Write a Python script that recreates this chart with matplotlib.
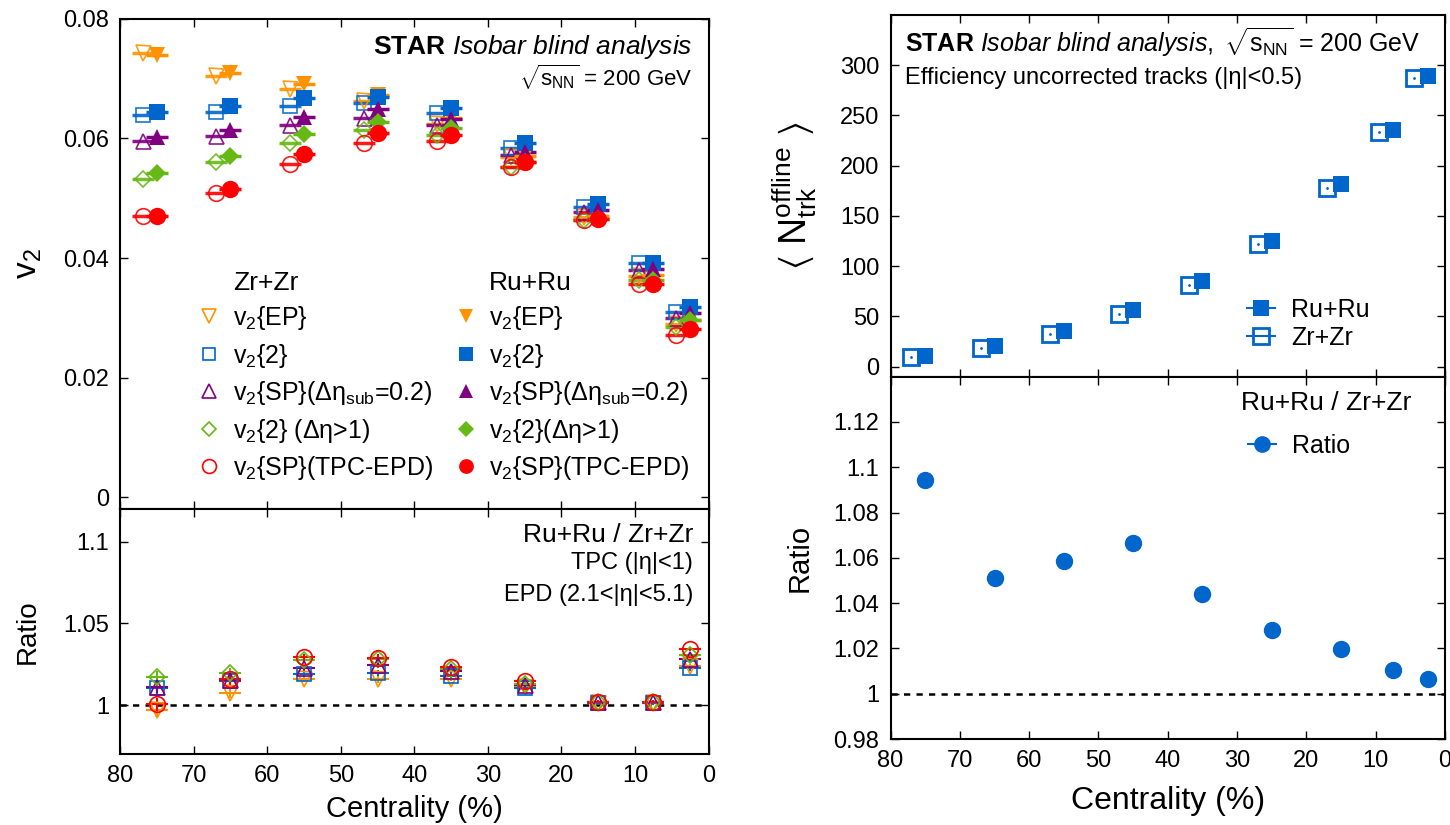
import numpy as np
import matplotlib.pyplot as plt
from matplotlib.lines import Line2D
from matplotlib.ticker import FormatStrFormatter, MultipleLocator

plt.rcParams['font.family'] = ['Liberation Sans', 'DejaVu Sans']
plt.rcParams['mathtext.fontset'] = 'custom'
plt.rcParams['mathtext.rm'] = 'Liberation Sans'
plt.rcParams['mathtext.it'] = 'Liberation Sans:italic'
plt.rcParams['mathtext.bf'] = 'Liberation Sans:bold'
plt.rcParams['mathtext.default'] = 'regular'

# centrality bin centres (%)
cent = [75, 65, 55, 45, 35, 25, 15, 7.5, 2.5]

# v2 values, Zr+Zr and Ru+Ru
zr_ep = [0.0743, 0.0704, 0.0683, 0.0662, 0.0625, 0.0569, 0.0469, 0.0370, 0.0290]
ru_ep = [0.0740, 0.0709, 0.0692, 0.0672, 0.0635, 0.0571, 0.0470, 0.0371, 0.0297]
zr_v22 = [0.0639, 0.0645, 0.0654, 0.0659, 0.0642, 0.0584, 0.0486, 0.0392, 0.0310]
ru_v22 = [0.0644, 0.0654, 0.0667, 0.0670, 0.0651, 0.0592, 0.0490, 0.0392, 0.0318]
zr_sp = [0.0595, 0.0604, 0.0623, 0.0634, 0.0623, 0.0572, 0.0477, 0.0380, 0.0300]
ru_sp = [0.0602, 0.0615, 0.0636, 0.0649, 0.0632, 0.0577, 0.0480, 0.0381, 0.0308]
zr_gap = [0.0533, 0.0560, 0.0592, 0.0614, 0.0606, 0.0553, 0.0464, 0.0363, 0.0285]
ru_gap = [0.0542, 0.0571, 0.0608, 0.0628, 0.0617, 0.0560, 0.0465, 0.0364, 0.0296]
zr_epd = [0.0470, 0.0508, 0.0558, 0.0592, 0.0595, 0.0553, 0.0464, 0.0356, 0.0271]
ru_epd = [0.0470, 0.0515, 0.0574, 0.0609, 0.0606, 0.0560, 0.0465, 0.0357, 0.0281]

# Ru+Ru / Zr+Zr v2 ratios
rat_ep = [0.9969, 1.0075, 1.0161, 1.0157, 1.0160, 1.0110, 1.0010, 1.0010, 1.0239]
rat_v22 = [1.0102, 1.0150, 1.0190, 1.0195, 1.0180, 1.0105, 1.0012, 1.0012, 1.0225]
rat_sp = [1.0112, 1.0155, 1.0225, 1.0245, 1.0210, 1.0120, 1.0020, 1.0020, 1.0280]
rat_gap = [1.0170, 1.0198, 1.0276, 1.0280, 1.0220, 1.0130, 1.0020, 1.0020, 1.0306]
rat_epd = [1.0006, 1.0157, 1.0292, 1.0290, 1.0230, 1.0149, 1.0020, 1.0020, 1.0343]
rat_err = [0.004, 0.003, 0.002, 0.002, 0.0015, 0.001, 0.001, 0.001, 0.0015]

# multiplicity
ru_nch = [11, 20.5, 35, 56, 85.5, 125.5, 182, 236, 289.5]
zr_nch = [10, 19, 32.5, 52.5, 81.5, 122, 178, 233.5, 287.5]
nch_ratio = [1.0945, 1.0513, 1.0587, 1.0665, 1.0439, 1.0283, 1.0198, 1.0105, 1.0065]

c_or = '#ff9200'
c_bl = '#0066cc'
c_pu = '#800080'
c_gr = '#66b814'
c_rd = '#ff0000'

methods = [
    ('EP', zr_ep, ru_ep, rat_ep, 'v', c_or, 12, r'$v_2${EP}', r'$v_2${EP}'),
    ('2', zr_v22, ru_v22, rat_v22, 's', c_bl, 11.5, r'$v_2${2}', r'$v_2${2}'),
    ('SP', zr_sp, ru_sp, rat_sp, '^', c_pu, 12, r'$v_2${SP}($\Delta\eta_{sub}$=0.2)',
     r'$v_2${SP}($\Delta\eta_{sub}$=0.2)'),
    ('gap', zr_gap, ru_gap, rat_gap, 'D', c_gr, 9.5, r'$v_2${2} ($\Delta\eta$>1)', r'$v_2${2}($\Delta\eta$>1)'),
    ('EPD', zr_epd, ru_epd, rat_epd, 'o', c_rd, 12.5, r'$v_2${SP}(TPC-EPD)', r'$v_2${SP}(TPC-EPD)'),
]

fig = plt.figure(figsize=(14.5, 8.25), dpi=100)
ax1 = fig.add_axes([0.0828, 0.383, 0.4059, 0.594])
ax2 = fig.add_axes([0.0828, 0.086, 0.4059, 0.297])
ax3 = fig.add_axes([0.6142, 0.5434, 0.3823, 0.4384])
ax4 = fig.add_axes([0.6142, 0.1042, 0.3823, 0.4392])

cx = np.array(cent)
zr_handles, ru_handles = [], []
for name, zr, ru, rat, mk, col, ms, lz, lr in methods:
    ax1.errorbar(cx + 1.9, zr, xerr=1.5, fmt=mk, ms=ms * 0.9, mfc='none', mec=col, mew=1.2,
                 ecolor=col, elinewidth=2.5, capsize=0, alpha=0.9, zorder=3)
    ax1.errorbar(cx, ru, xerr=1.5, fmt=mk, ms=ms, mfc=col, mec=col, mew=0,
                 ecolor=col, elinewidth=2.5, capsize=0, zorder=4)
    ax2.errorbar(cx, rat, xerr=1.5, yerr=rat_err, fmt=mk, ms=ms * 0.9, mfc='none', mec=col, mew=1.2,
                 ecolor=col, elinewidth=1.5, capsize=0, zorder=3)
    zr_handles.append(Line2D([], [], ls='none', marker=mk, ms=ms * 0.8, mfc='none', mec=col, mew=1.2, label=lz))
    ru_handles.append(Line2D([], [], ls='none', marker=mk, ms=ms * 0.85, mfc=col, mec=col, mew=0, label=lr))

hdr_zr = Line2D([], [], ls='none', label='Zr+Zr')
hdr_ru = Line2D([], [], ls='none', label='Ru+Ru')
leg = ax1.legend(handles=[hdr_zr] + zr_handles + [hdr_ru] + ru_handles, ncol=2,
                 loc='upper left', bbox_to_anchor=(0.109, 0.512), frameon=False,
                 fontsize=18, handlelength=1.0, handletextpad=0.45, borderpad=0,
                 labelspacing=0.38, columnspacing=0.8)
for t in leg.get_texts():
    if t.get_text() in ('Zr+Zr', 'Ru+Ru'):
        t.set_fontsize(19)

ax1.text(0.972, 0.943, r'$\mathbf{STAR}$ $\mathit{Isobar\ blind\ analysis}$', transform=ax1.transAxes,
         ha='right', va='center', fontsize=19)
ax1.text(0.972, 0.88, r'$\sqrt{s_{NN}}$ = 200 GeV', transform=ax1.transAxes,
         ha='right', va='center', fontsize=16)

ax2.axhline(1.0, color='black', ls=(0, (2.5, 2.5)), lw=1.8, zorder=1)
ax2.text(0.974, 0.894, 'Ru+Ru / Zr+Zr', transform=ax2.transAxes, ha='right', va='center', fontsize=19)
ax2.text(0.974, 0.78, 'TPC (|η|<1)', transform=ax2.transAxes, ha='right', va='center', fontsize=17)
ax2.text(0.974, 0.649, 'EPD (2.1<|η|<5.1)', transform=ax2.transAxes, ha='right', va='center', fontsize=17)

# right panels
ax3.errorbar(cx + 2.0, zr_nch, fmt='s', ms=11.5, mfc='none', mec=c_bl, mew=2.0, zorder=3)
ax3.plot(cx + 2.0, zr_nch, ls='none', marker='.', ms=2, color=c_bl)
ax3.errorbar(cx, ru_nch, fmt='s', ms=11.5, mfc=c_bl, mec=c_bl, mew=0, zorder=4)
h_ru = Line2D([], [], ls='-', lw=1.5, color=c_bl, marker='s', ms=11, mfc=c_bl, mew=0, label='Ru+Ru')
h_zr = Line2D([], [], ls='-', lw=1.5, color=c_bl, marker='s', ms=11, mfc='none', mew=2.0, label='Zr+Zr')
ax3.legend(handles=[h_ru, h_zr], loc='upper left', bbox_to_anchor=(0.621, 0.252), frameon=False,
           fontsize=18, handlelength=1.1, handletextpad=0.65, borderpad=0, labelspacing=0.15)
ax3.text(0.026, 0.925, r'$\mathbf{STAR}$ $\mathit{Isobar\ blind\ analysis,}$ $\sqrt{s_{NN}}$ = 200 GeV',
         transform=ax3.transAxes, ha='left', va='center', fontsize=18)
ax3.text(0.026, 0.826, 'Efficiency uncorrected tracks (|η|<0.5)', transform=ax3.transAxes,
         ha='left', va='center', fontsize=17)

ax4.plot(cx, nch_ratio, ls='none', marker='o', ms=11.5, color=c_bl)
ax4.axhline(1.0, color='black', ls=(0, (2.5, 2.5)), lw=1.8, zorder=1)
h_rat = Line2D([], [], ls='-', lw=1.5, color=c_bl, marker='o', ms=11, label='Ratio')
ax4.legend(handles=[h_rat], loc='upper left', bbox_to_anchor=(0.6225, 0.877), frameon=False,
           fontsize=18, handlelength=1.1, handletextpad=0.65, borderpad=0)
ax4.text(0.94, 0.927, 'Ru+Ru / Zr+Zr', transform=ax4.transAxes, ha='right', va='center', fontsize=19)

# axes styling
for ax in (ax1, ax2, ax3, ax4):
    ax.set_xlim(80, 0)
    ax.xaxis.set_major_locator(MultipleLocator(10))
    ax.tick_params(which='both', direction='in', top=True, right=True, length=6, width=1.0,
                   labelsize=17, pad=8)
    for sp in ax.spines.values():
        sp.set_linewidth(1.5)
    ax.yaxis.set_major_formatter(FormatStrFormatter('%g'))

ax1.set_ylim(-0.002, 0.08)
ax1.set_yticks([0, 0.02, 0.04, 0.06, 0.08])
ax1.tick_params(labelbottom=False)
ax1.set_ylabel(r'$v_2$', fontsize=24, labelpad=14)

ax2.set_ylim(0.97, 1.12)
ax2.set_yticks([1.0, 1.05, 1.1])
ax2.set_ylabel('Ratio', fontsize=20, labelpad=16)
ax2.set_xlabel('Centrality (%)', fontsize=21, labelpad=6)

ax3.set_ylim(-10, 350)
ax3.set_yticks([0, 50, 100, 150, 200, 250, 300])
ax3.tick_params(labelbottom=False)
ax3.set_ylabel(r'$\langle\ N_{trk}^{offline}\ \rangle$', fontsize=27, labelpad=15)

ax4.set_ylim(0.98, 1.14)
ax4.set_yticks([0.98, 1.0, 1.02, 1.04, 1.06, 1.08, 1.1, 1.12])
ax4.set_ylabel('Ratio', fontsize=21, labelpad=14)
ax4.set_xlabel('Centrality (%)', fontsize=23, labelpad=10)

fig.savefig('out.png', dpi=100)
